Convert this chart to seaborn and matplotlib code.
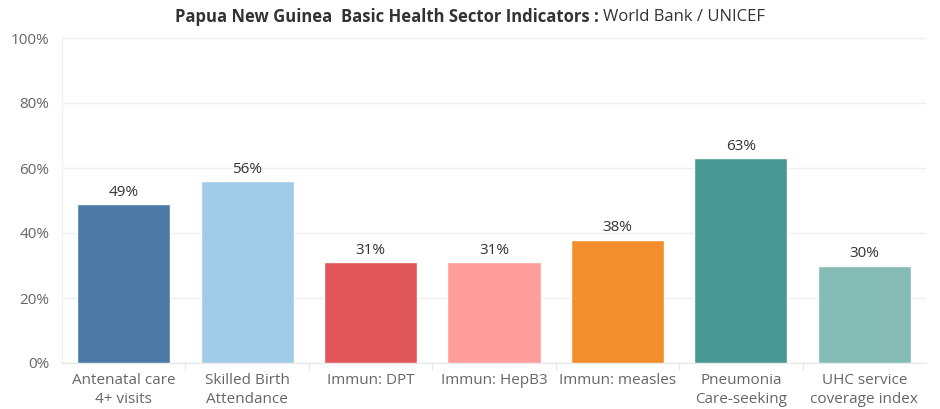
import pandas as pd
import seaborn as sns
import matplotlib.pyplot as plt
from matplotlib.ticker import PercentFormatter

indicators = ["Antenatal care\n4+ visits", "Skilled Birth\nAttendance", "Immun: DPT",
              "Immun: HepB3", "Immun: measles", "Pneumonia\nCare-seeking",
              "UHC service\ncoverage index"]
values = [49, 56, 31, 31, 38, 63, 30]
colors = ["#4E79A7", "#A0CBE8", "#E15759", "#FF9D9A", "#F28E2B", "#499894", "#86BCB6"]

df = pd.DataFrame({"indicator": indicators, "value": values})

sns.set_style("white")
plt.rcParams["font.family"] = ["Open Sans", "DejaVu Sans"]

fig = plt.figure(figsize=(9.4, 4.09), dpi=100)
ax = fig.add_axes([62 / 940, (409 - 363) / 409, (926 - 62) / 940, (363 - 38) / 409])

sns.barplot(data=df, x="indicator", y="value", hue="indicator", palette=colors,
            saturation=1, width=0.755, legend=False, ax=ax, zorder=3)

for i, v in enumerate(values):
    ax.text(i, v + 1.3, f"{v}%", ha="center", va="bottom", fontsize=11, color="#333333")

ax.set_ylim(0, 100)
ax.set_xlim(-0.5, len(values) - 0.5)
ax.set_yticks([0, 20, 40, 60, 80, 100])
ax.yaxis.set_major_formatter(PercentFormatter(decimals=0))
ax.grid(axis="y", color="#efefef", linewidth=1, zorder=0)
ax.set_xlabel("")
ax.set_ylabel("")

for s in ["top", "right"]:
    ax.spines[s].set_visible(False)
ax.spines["left"].set_color("#f0f0f0")
ax.spines["bottom"].set_color("#e8e8e8")

ax.tick_params(axis="y", length=0, pad=9, labelsize=11, labelcolor="#666666")
ax.tick_params(axis="x", length=0, pad=7, labelsize=11, labelcolor="#666666")
for lbl in ax.get_xticklabels():
    lbl.set_linespacing(1.4)
    lbl.set_verticalalignment("top")

# small separators between categories on the x axis
for b in range(1, len(values)):
    ax.plot([b - 0.5, b - 0.5], [0, -2], color="#e8e8e8", lw=1, clip_on=False)

t1 = fig.text(0, 0.958, "Papua New Guinea  Basic Health Sector Indicators : ", ha="left",
              va="center", fontsize=12, fontweight="bold", color="#333333")
t2 = fig.text(0, 0.958, "World Bank / UNICEF", ha="left", va="center", fontsize=12,
              color="#333333")
r = fig.canvas.get_renderer()
w1 = t1.get_window_extent(r).width
w2 = t2.get_window_extent(r).width
x0 = (470 - (w1 + w2) / 2) / 940
t1.set_x(x0)
t2.set_x(x0 + w1 / 940)

fig.savefig("out.png", dpi=100)
